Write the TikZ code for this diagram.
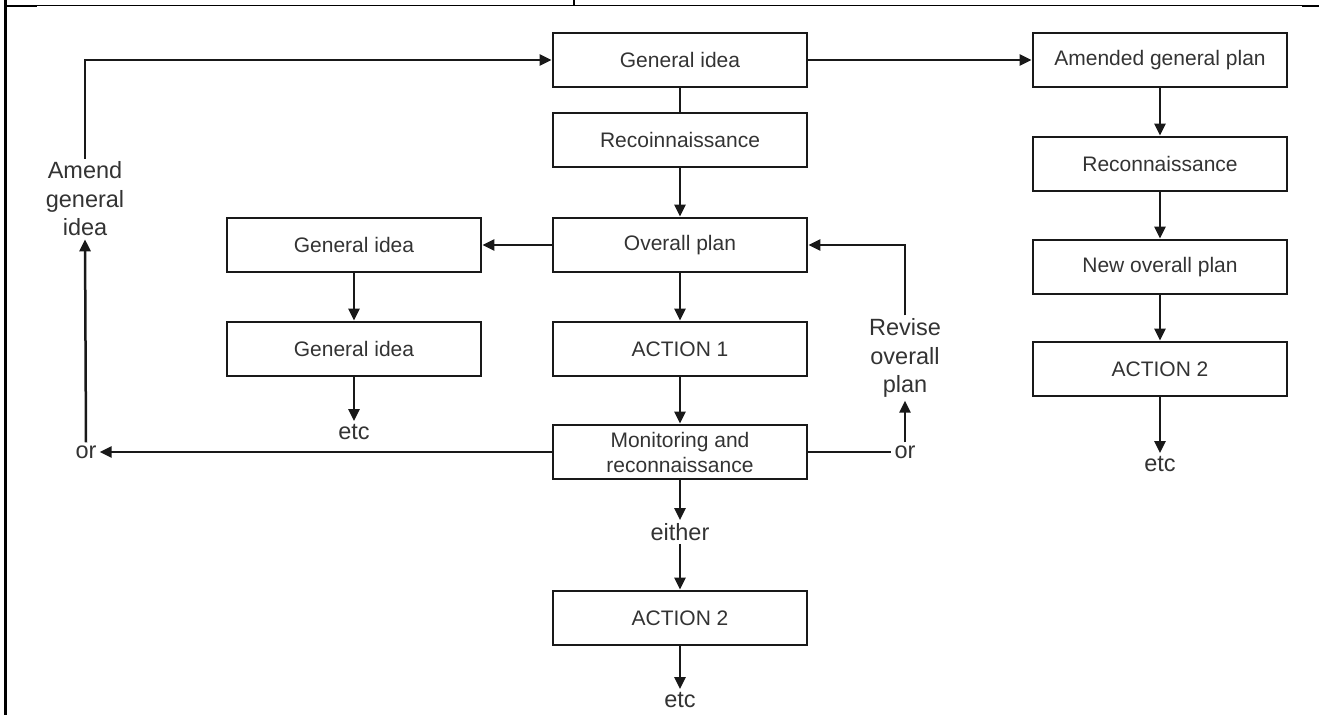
\documentclass[tikz,border=0pt]{standalone}
\usepackage{fontspec}
\setmainfont{Liberation Sans}
\usetikzlibrary{arrows.meta}
\begin{document}
\begin{tikzpicture}[x=1pt,y=-1pt,
  box/.style={draw=black!90,line width=2.7pt,minimum width=254pt,minimum height=54pt,
    inner sep=2pt,align=center,text=black!80,font=\fontsize{21}{25}\selectfont},
  lbl/.style={inner sep=3pt,align=center,text=black!80,font=\fontsize{23.5}{28.5}\selectfont},
  conn/.style={line width=2.5pt,draw=black!90},
  arr/.style={conn,-{Triangle[length=12pt,width=11pt]}}]
\useasboundingbox (0,0) rectangle (1319,715);

% page frame
\draw[line width=2.8pt] (5.5,0) -- (5.5,715);
\draw[line width=1.3pt] (5.5,5.5) -- (1319,5.5);
\draw[line width=2.6pt] (5.5,6) -- (37,6);
\draw[line width=2.6pt] (1302,6) -- (1319,6);
\draw[line width=1.6pt] (574,0) -- (574,5.5);

% centre column
\node[box] (gi)  at (680,60)  {General idea};
\node[box] (rec) at (680,140) {Recoinnaissance};
\node[box] (op)  at (680,245) {Overall plan};
\node[box] (a1)  at (680,349) {ACTION 1};
\node[box] (mon) at (680,452) {Monitoring and\\reconnaissance};
\node[lbl] (either) at (680,532) {either};
\node[box] (a2)  at (680,618) {ACTION 2};
\node[lbl] (etcc) at (680,700) {etc};

% left column
\node[box] (gl1) at (354,245) {General idea};
\node[box] (gl2) at (354,349) {General idea};
\node[lbl] (etcl) at (354,432) {etc};

% right column
\node[box] (agp) at (1160,60)  {Amended general plan};
\node[box] (rec2) at (1160,164) {Reconnaissance};
\node[box] (nop) at (1160,267) {New overall plan};
\node[box] (a2r) at (1160,369) {ACTION 2};
\node[lbl] (etcr) at (1160,464) {etc};

% side labels
\node[lbl] (amend) at (85,199) {Amend\\general\\idea};
\node[lbl] (orl) at (86,452) {or};
\node[lbl] (revise) at (905,358) {Revise\\overall\\plan};
\node[lbl] (orr) at (905,452) {or};
\coordinate (atop) at (85,60);
\coordinate (rtop) at (905,245);

% connectors
\draw[conn] (gi) -- (rec);
\draw[arr] (rec) -- (op);
\draw[arr] (op) -- (a1);
\draw[arr] (a1) -- (mon);
\draw[arr] (mon) -- (either);
\draw[arr] (either) -- (a2);
\draw[arr] (a2) -- (etcc);
\draw[arr] (op) -- (gl1);
\draw[arr] (gl1) -- (gl2);
\draw[arr] (gl2) -- (etcl);
\draw[arr] (gi) -- (agp);
\draw[arr] (agp) -- (rec2);
\draw[arr] (rec2) -- (nop);
\draw[arr] (nop) -- (a2r);
\draw[arr] (a2r) -- (etcr);
\draw[arr] (amend.north) -- (atop) -- (gi.west);
\draw[arr] (mon.west) -- (orl.east);
\draw[arr] (orl.north) -- (amend.south);
\draw[arr] (revise.north) -- (rtop) -- (op.east);
\draw[conn] (mon.east) -- (orr.west);
\draw[arr] (orr.north) -- (revise.south);
\end{tikzpicture}
\end{document}
